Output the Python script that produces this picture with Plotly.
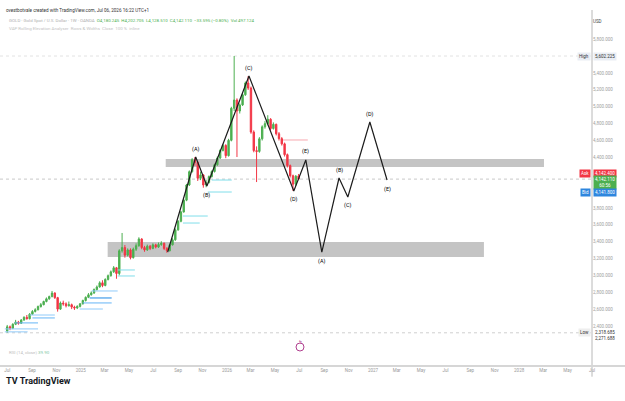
import plotly.graph_objects as go
import pandas as pd

# ---------------- data ----------------
bar_start = "2024-07-01"   # weekly bars
opens = [2340,2390,2372,2420,2446,2432,2470,2502,2486,2540,2572,2592,2630,2652,2690,2722,2748,2790,2736,2600,
         2672,2662,2640,2652,2624,2614,2632,2662,2702,2740,2770,2792,2832,2862,2912,2880,2952,2996,3042,3090,
         3022,3292,3330,3240,3302,3210,3310,3352,3432,3330,3302,3346,3320,3362,3336,3366,3380,3320,3292,3362,
         3422,3540,3642,3752,3892,4072,4230,4372,4340,4152,4192,4072,4102,4172,4232,4312,4392,4482,4542,4420,
         4602,4982,5080,4950,5022,5142,5282,5222,4700,4480,4470,4620,4762,4800,4852,4742,4792,4680,4622,4560,
         4432,4302,4182,4082,4180.245]
highs = [2412,2405,2432,2472,2460,2482,2515,2530,2552,2588,2610,2642,2672,2700,2738,2760,2815,2800,2745,2690,
         2700,2680,2690,2665,2640,2645,2672,2712,2750,2790,2810,2845,2880,2930,2942,2965,3010,3058,3110,3100,
         3310,3503,3360,3320,3320,3330,3380,3452,3440,3350,3365,3360,3380,3375,3390,3405,3390,3335,3375,3440,
         3555,3655,3765,3905,4085,4245,4390,4404,4350,4230,4200,4130,4185,4245,4325,4410,4495,4560,4555,4620,
         5000,5602.225,5100,5040,5160,5300,5365,5240,4720,4530,4640,4780,4830,4900,4865,4815,4800,4700,4640,4575,
         4445,4315,4195,4190,4202.705]
lows = [2318.685,2350,2362,2410,2415,2425,2462,2475,2478,2530,2560,2585,2618,2645,2680,2710,2740,2720,2570,2590,
        2640,2620,2630,2600,2590,2600,2620,2655,2690,2730,2760,2780,2820,2855,2860,2870,2940,2985,3030,2960,
        3000,3270,3210,3225,3190,3200,3290,3340,3310,3280,3290,3300,3310,3320,3325,3350,3300,3268,3285,3355,
        3410,3530,3630,3745,3880,4060,4220,4300,4120,4130,4040,4045,4090,4160,4220,4300,4380,4470,4390,4410,
        4590,4950,4404,4920,5010,5130,5200,4680,4460,4107,4455,4600,4740,4780,4720,4730,4660,4600,4540,4410,
        4280,4160,4001,4060,4128.51]
closes = [2390,2372,2420,2446,2432,2470,2502,2486,2540,2572,2592,2630,2652,2690,2722,2748,2790,2736,2600,2672,
          2662,2640,2652,2624,2614,2632,2662,2702,2740,2770,2792,2832,2862,2912,2880,2952,2996,3042,3090,3022,
          3292,3330,3240,3302,3210,3310,3352,3432,3330,3302,3346,3320,3362,3336,3366,3380,3320,3292,3362,3422,
          3540,3642,3752,3892,4072,4230,4372,4340,4152,4192,4072,4102,4172,4232,4312,4392,4482,4542,4420,4602,
          4982,5080,4950,5022,5142,5282,5222,4700,4480,4470,4620,4762,4800,4852,4742,4792,4680,4622,4560,4432,
          4302,4182,4082,4175.705,4142.11]

# Elliott-style wave drawing
wave_dates = ["2025-08-06","2025-10-15","2025-11-12","2026-02-25","2026-06-17","2026-07-17",
              "2026-08-26","2026-10-08","2026-10-30","2026-12-24","2027-02-05"]
wave_prices = [3277, 4404, 4060, 5365, 4001, 4369, 3277, 4155, 3930, 4819, 4131]
wave_labels = ["", "(A)", "(B)", "(C)", "(D)", "(E)", "(A)", "(B)", "(C)", "(D)", "(E)"]
wave_above = [True, True, False, True, False, True, False, True, False, True, False]

# grey zones
zone_start = ["2025-08-01", "2025-03-09"]
zone_end = ["2028-03-03", "2027-10-05"]
zone_low = [4286, 3218]
zone_high = [4380, 3396]

# short horizontal indicator levels
lvl_start = ["2024-06-25","2024-06-25","2024-07-20","2024-08-26","2024-09-02","2024-12-29","2025-01-06",
             "2025-01-23","2025-01-28","2025-04-03","2025-04-03","2025-09-13","2025-09-13","2025-11-24",
             "2025-11-14","2026-05-21"]
lvl_end = ["2024-08-21","2024-09-16","2024-09-16","2024-10-28","2024-10-28","2025-02-25","2025-03-19",
           "2025-03-19","2025-04-03","2025-05-16","2025-05-16","2025-10-25","2025-11-14","2026-01-13",
           "2026-01-13","2026-07-22"]
lvl_price = [2330,2365,2436,2530,2495,2601,2673,2732,2815,3064,2993,3621,3704,4131,3989,4606]
lvl_color = ["#90caf9","#90caf9","#64b5f6","#90caf9","#64b5f6","#90caf9","#64b5f6","#1e88e5","#90caf9",
             "#80deea","#80deea","#80deea","#80deea","#80deea","#80deea","#f7a8b0"]

# price scale labels that are not hidden behind the High / Ask / Bid tags
price_ticks = [2400,2600,2800,3000,3200,3400,3600,3800,4400,4600,4800,5000,5200,5400,5800]
time_tick_text = ["Jul","Sep","Nov","2025","Mar","May","Jul","Sep","Nov","2026","Mar","May","Jul",
                  "Sep","Nov","2027","Mar","May","Jul","Sep","Nov","2028","Mar","May","Jul"]

high_price = 5602.225
low_price = 2318.685
low2_price = 2271.688
last_price = 4142.110
ask_price = 4142.400
bid_price = 4141.800

# ---------------- figure ----------------
FONT = "Roboto, Liberation Sans, sans-serif"
dates = pd.date_range(bar_start, periods=len(closes), freq="7D")
time_ticks = pd.date_range("2024-07-01", periods=len(time_tick_text), freq="2MS")

fig = go.Figure()

for x0, x1, lo, hi in zip(zone_start, zone_end, zone_low, zone_high):
    fig.add_shape(type="rect", xref="x", yref="y", x0=x0, x1=x1, y0=lo, y1=hi,
                  fillcolor="#c4c4c4", line_width=0, layer="below")

for s, e, p, c in zip(lvl_start, lvl_end, lvl_price, lvl_color):
    fig.add_trace(go.Scatter(x=[s, e], y=[p, p], mode="lines",
                             line=dict(color=c, width=1), hoverinfo="skip"))

# horizontal reference lines
for p, col, dash in [(high_price, "#e2e2e2", "dot"), (low_price, "#cfcfcf", "dot"),
                     (last_price, "#c8c8c8", "dot")]:
    fig.add_shape(type="line", xref="paper", yref="y", x0=0, x1=1, y0=p, y1=p,
                  line=dict(color=col, width=1, dash=dash), layer="below")

fig.add_trace(go.Candlestick(
    x=dates, open=opens, high=highs, low=lows, close=closes,
    increasing=dict(line=dict(color="#4caf50", width=1), fillcolor="#4caf50"),
    decreasing=dict(line=dict(color="#f23645", width=1), fillcolor="#f23645"),
    whiskerwidth=0, hoverinfo="skip"))

fig.add_trace(go.Scatter(x=wave_dates, y=wave_prices, mode="lines",
                         line=dict(color="#1c1c1c", width=1.2), hoverinfo="skip"))

for d, p, lab, up in zip(wave_dates, wave_prices, wave_labels, wave_above):
    if lab:
        fig.add_annotation(x=d, y=p, xref="x", yref="y", text=lab, showarrow=False,
                           yshift=8 if up else -9, font=dict(size=5.5, color="#000000", family=FONT))

# ---------------- axes ----------------
fig.update_layout(
    width=625, height=401, margin=dict(l=0, r=33, t=10, b=35),
    paper_bgcolor="white", plot_bgcolor="white", showlegend=False,
    xaxis=dict(range=["2024-06-13", "2028-07-01"], tickvals=time_ticks, ticktext=time_tick_text,
               showgrid=False, zeroline=False, rangeslider=dict(visible=False),
               tickfont=dict(size=4.5, color="#9a9a9a", family=FONT), ticks="",
               showline=False),
    yaxis=dict(range=[1925, 6148], side="right", tickvals=price_ticks,
               ticktext=[f"{v:,.3f}" for v in price_ticks], showgrid=False, zeroline=False,
               tickfont=dict(size=4.5, color="#a0a0a0", family=FONT), ticks="", showline=False),
)

# axis lines
fig.add_shape(type="line", xref="paper", yref="paper", x0=1, x1=1, y0=-0.03, y1=1.0,
              line=dict(color="#b8b8b8", width=1))
fig.add_shape(type="line", xref="paper", yref="paper", x0=0, x1=1.056, y0=0, y1=0,
              line=dict(color="#d6d6d6", width=2))

# ---------------- price axis tags ----------------
def tag(text, price, bg, fg, side, yshift=0):
    fig.add_annotation(x=1, xref="paper", y=price, yref="y", text=text, showarrow=False,
                       xanchor="left" if side == "r" else "right",
                       xshift=1 if side == "r" else -1, yshift=yshift,
                       bgcolor=bg, borderpad=1, font=dict(size=4.5, color=fg, family=FONT))

tag("High", high_price, "#e9edf4", "#333", "l")
tag(f"{high_price:,.3f}", high_price, "#e9edf4", "#333", "r")
tag("Ask", ask_price, "#f23645", "white", "l", yshift=6)
tag(f"{ask_price:,.3f}", ask_price, "#f23645", "white", "r", yshift=6)
tag(f"{last_price:,.3f}<br>60:56", last_price, "#4caf50", "white", "r", yshift=-3)
tag("Bid", bid_price, "#2e86de", "white", "l", yshift=-13)
tag(f"{bid_price:,.3f}", bid_price, "#2e86de", "white", "r", yshift=-13)
tag("Low", low_price, "#eeeeee", "#333", "l")
tag(f"{low_price:,.3f}", low_price, "white", "#333", "r")
tag(f"{low2_price:,.3f}", low2_price, "white", "#333", "r", yshift=-2)

fig.add_annotation(x=604/592, y=(366-17)/356, xref="paper", yref="paper", text="USD",
                   showarrow=False, font=dict(size=4.5, color="#444", family=FONT))

# ---------------- header / footer texts ----------------
fig.add_annotation(x=4/592, y=(366-5.5)/356, xref="paper", yref="paper", xanchor="left",
                   text="ovestbotvale created with TradingView.com, Jul 06, 2026 16:22 UTC+1",
                   showarrow=False, font=dict(size=4.6, color="#333", family=FONT))
fig.add_annotation(x=7/592, y=(366-16)/356, xref="paper", yref="paper", xanchor="left",
                   text=("<span style='color:#b0b0b0'>GOLD · Gold Spot / U.S. Dollar · 1W · OANDA</span>"
                         "  <span style='color:#4caf50'>O4,180.245  H4,202.705  L4,128.510  "
                         "C4,142.110  −33.595 (−0.80%)  Vol 497.124</span>"),
                   showarrow=False, font=dict(size=4.4, family=FONT))
fig.add_annotation(x=7/592, y=(366-24)/356, xref="paper", yref="paper", xanchor="left",
                   text="VAP Rolling Elevation Analyser  Rows & Widths  Close  100 %  inline",
                   showarrow=False, font=dict(size=4.4, color="#c4c4c4", family=FONT))
fig.add_annotation(x=7/592, y=(366-357)/356, xref="paper", yref="paper", xanchor="left",
                   text="<span style='color:#c0c0c0'>RSI (14, close)</span> <span style='color:#7fc6a4'>39.90</span>",
                   showarrow=False, font=dict(size=4.4, family=FONT))

# event icon
fig.add_shape(type="circle", xref="paper", yref="paper", x0=296/592, x1=304/592,
              y0=(366-351)/356, y1=(366-343)/356, line=dict(color="#b0408f", width=1))
fig.add_annotation(x=300/592, y=(366-347)/356, xref="paper", yref="paper", text="ϟ",
                   showarrow=False, font=dict(size=5, color="#b0408f", family=FONT))

# logo
fig.add_annotation(x=4/592, y=(366-388)/356, xref="paper", yref="paper", xanchor="left",
                   text="<b>TV</b> <b>TradingView</b>", showarrow=False,
                   font=dict(size=9, color="#131722", family=FONT))

fig.write_html("out.html", config={"displayModeBar": False})
